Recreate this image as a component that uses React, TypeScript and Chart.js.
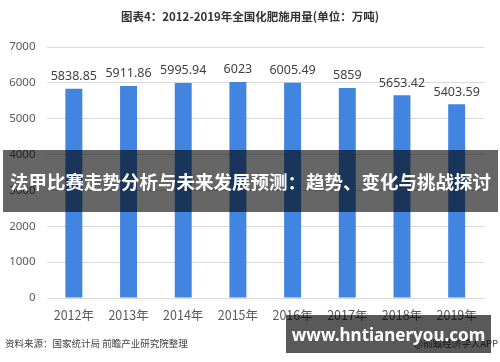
import React, { useEffect, useRef } from "react";
import { Chart, registerables } from "chart.js";

Chart.register(...registerables);

const categories = ["2012年", "2013年", "2014年", "2015年", "2016年", "2017年", "2018年", "2019年"];
const values = [5838.85, 5911.86, 5995.94, 6023, 6005.49, 5859, 5653.42, 5403.59];
const valueLabels = ["5838.85", "5911.86", "5995.94", "6023", "6005.49", "5859", "5653.42", "5403.59"];
const yTicks = [0, 1000, 2000, 3000, 4000, 5000, 6000, 7000];

const titleText = "图表4：2012-2019年全国化肥施用量(单位：万吨)";
const sourceText = "资料来源：国家统计局 前瞻产业研究院整理";
const creditText = "@前瞻经济学人APP";
const bannerText = "法甲比赛走势分析与未来发展预测：趋势、变化与挑战探讨";
const siteText = "www.hntianeryou.com";

const FONT = "'Noto Sans', 'DejaVu Sans', sans-serif";
const CJK = "'Noto Sans CJK SC', 'Noto Sans', sans-serif";

const labelPlugin = {
  id: "valueLabels",
  afterDatasetsDraw(chart: any) {
    const ctx = chart.ctx;
    const meta = chart.getDatasetMeta(0);
    ctx.save();
    ctx.font = "12.5px " + FONT;
    ctx.fillStyle = "#404040";
    ctx.textAlign = "center";
    ctx.textBaseline = "bottom";
    meta.data.forEach((bar: any, i: number) => {
      ctx.fillText(valueLabels[i], bar.x, bar.y - 6);
    });
    ctx.restore();
  },
};

export default function App() {
  const ref = useRef<HTMLCanvasElement | null>(null);
  useEffect(() => {
    if (!ref.current) return;
    const chart = new Chart(ref.current, {
      type: "bar",
      data: {
        labels: categories,
        datasets: [
          {
            data: values,
            backgroundColor: "#4285E0",
            barPercentage: 0.62,
            categoryPercentage: 0.5,
          },
        ],
      },
      options: {
        responsive: false,
        animation: false,
        layout: { padding: { top: 47, right: 16, bottom: 40, left: 0 } },
        plugins: { legend: { display: false }, tooltip: { enabled: false }, title: { display: false } },
        scales: {
          x: {
            grid: { display: false },
            border: { display: false },
            ticks: { color: "#595959", font: { size: 12.5, family: CJK }, padding: 2 },
            afterFit: (s: any) => {
              s.height = 24;
            },
          },
          y: {
            min: 0,
            max: 7000,
            afterBuildTicks: (s: any) => {
              s.ticks = yTicks.map((v) => ({ value: v }));
            },
            grid: { color: "#d9d9d9", drawTicks: false },
            border: { display: false },
            ticks: {
              color: "#595959",
              font: { size: 11.5, family: FONT },
              padding: 11,
              callback: (v: any) => String(v),
            },
            afterFit: (s: any) => {
              s.width = 46.5;
            },
          },
        },
      },
      plugins: [labelPlugin],
    });
    return () => chart.destroy();
  }, []);

  return (
    <div style={{ position: "fixed", left: 0, top: 0, width: 500, height: 362, background: "#fff", overflow: "hidden" }}>
      <canvas ref={ref} width={500} height={362} style={{ position: "absolute", left: 0, top: 0 }} />
      <div
        style={{
          position: "absolute", left: 0, top: 8, width: 500, textAlign: "center",
          font: "bold 11.5px " + CJK, color: "#333", lineHeight: "16px",
        }}
      >
        {titleText}
      </div>
      <div
        style={{
          position: "absolute", left: 5, top: 335, font: "9.5px " + CJK, color: "#404040", lineHeight: "16px",
        }}
      >
        {sourceText}
      </div>
      <div
        style={{
          position: "absolute", right: 2, top: 335, font: "9.5px " + CJK, color: "#404040", lineHeight: "16px",
        }}
      >
        {creditText}
      </div>
      <div
        style={{
          position: "absolute", left: 3, top: 150, width: 495, height: 62, background: "rgba(0,0,0,0.6)",
          display: "flex", alignItems: "center", justifyContent: "center",
          font: "bold 18.5px " + CJK, color: "#fff", whiteSpace: "nowrap",
        }}
      >
        {bannerText}
      </div>
      <div
        style={{
          position: "absolute", left: 286, top: 315, width: 205, height: 38, background: "rgba(0,0,0,0.65)",
          display: "flex", alignItems: "center", justifyContent: "center",
          font: "bold 17px " + FONT, color: "#fff", whiteSpace: "nowrap",
        }}
      >
        {siteText}
      </div>
    </div>
  );
}
